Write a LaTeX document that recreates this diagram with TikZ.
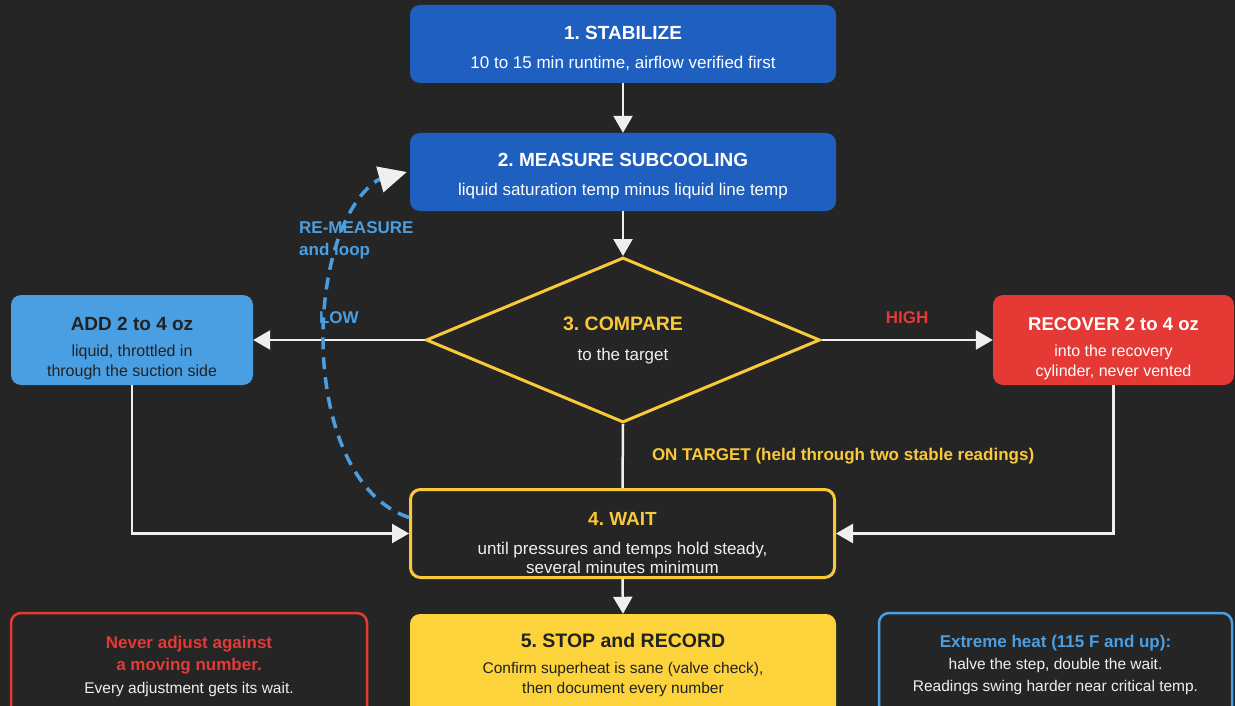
\documentclass[tikz,border=0pt]{standalone}
\usepackage{fontspec}
\setmainfont{Liberation Sans}
\usetikzlibrary{arrows.meta,shapes.geometric,calc}
\frenchspacing

\definecolor{bgdark}{HTML}{252525}
\definecolor{stepblue}{HTML}{1F5FC0}
\definecolor{addblue}{HTML}{4A9FE3}
\definecolor{recred}{HTML}{E53935}
\definecolor{waityellow}{HTML}{F9C93A}
\definecolor{stopyellow}{HTML}{FDD33C}
\definecolor{inkdark}{HTML}{222222}
\definecolor{inklight}{HTML}{EFEFEF}

\newcommand{\ttlfont}{\fontsize{19}{21}\selectfont\bfseries}
\newcommand{\notefont}{\fontsize{17}{21}\selectfont\bfseries}
\newcommand{\padtop}[1]{\rule{0pt}{#1pt}}

\begin{document}
\begin{tikzpicture}[x=1pt, y=-1pt,
        box/.style={rectangle, rounded corners=10pt, align=center, inner sep=0pt,
            font=\fontsize{17}{21}\selectfont},
        flow/.style={draw=inklight, line width=2.5pt, -{Triangle[length=17pt,width=19pt]}},
        lbl/.style={font=\fontsize{17}{22}\selectfont\bfseries, inner sep=0pt}]

        \fill[bgdark] (0,0) rectangle (1235,706);
        \useasboundingbox (0,0) rectangle (1235,706);
        \clip (0,0) rectangle (1235,706);

        % main column
        \node[box, fill=stepblue, text=white, minimum width=426pt, minimum height=78pt] (stabilize) at (623,44)
            {{\padtop{22}\ttlfont 1. STABILIZE}\\[8pt]10 to 15 min runtime, airflow verified first};
        \node[box, fill=stepblue, text=white, minimum width=426pt, minimum height=78pt] (measure) at (623,172)
            {{\padtop{22}\ttlfont 2. MEASURE SUBCOOLING}\\[8pt]liquid saturation temp minus liquid line temp};
        \node[diamond, draw=waityellow, line width=3pt, aspect=2.36, minimum width=394pt, minimum height=165pt,
            inner sep=0pt, align=center, text=inklight, font=\fontsize{17}{21}\selectfont] (compare) at (623,340)
            {{\fontsize{19.5}{21}\selectfont\bfseries\color{waityellow}3. COMPARE}\\[9pt]to the target};
        \node[box, draw=waityellow, line width=3pt, fill=bgdark, text=inklight, minimum width=424pt, minimum height=88pt,
            font=\fontsize{17}{19}\selectfont] (wait) at (622.5,533.5)
            {{\padtop{33}\ttlfont\color{waityellow}4. WAIT}\\[10pt]until pressures and temps hold steady,\\several minutes minimum};
        \node[box, fill=stopyellow, text=inkdark, minimum width=426pt, minimum height=102pt,
            font=\fontsize{15.5}{20}\selectfont] (stop) at (623,665)
            {{\fontsize{19.5}{21}\selectfont\bfseries 5. STOP and RECORD}\\[6pt]Confirm superheat is sane (valve check),\\then document every number};

        % side branches
        \node[box, fill=addblue, text=inkdark, minimum width=242pt, minimum height=90pt,
            font=\fontsize{16}{20}\selectfont] (add) at (132,340)
            {{\padtop{31}\ttlfont ADD 2 to 4 oz}\\[6pt]liquid, throttled in\\through the suction side};
        \node[box, fill=recred, text=white, minimum width=241pt, minimum height=90pt,
            font=\fontsize{16}{20}\selectfont] (recover) at (1113.5,340)
            {{\padtop{31}\fontsize{18.5}{21}\selectfont\bfseries RECOVER 2 to 4 oz}\\[6pt]into the recovery\\cylinder, never vented};

        % notes
        \node[box, draw=recred, line width=2.5pt, fill=bgdark, text=inklight, minimum width=356pt, minimum height=104pt,
            font=\fontsize{15.5}{22.5}\selectfont] (movingnote) at (189,665)
            {{\padtop{15}\notefont\color{recred}Never adjust against}\\{\notefont\color{recred}a moving number.}\\Every adjustment gets its wait.};
        \node[box, draw=addblue, line width=2.5pt, fill=bgdark, text=inklight, minimum width=353pt, minimum height=104pt,
            font=\fontsize{15.5}{22}\selectfont] (heatnote) at (1055.5,665)
            {{\notefont\color{addblue}Extreme heat (115 F and up):}\\halve the step, double the wait.\\Readings swing harder near critical temp.};

        % connectors
        \draw[flow] (stabilize.south) -- (measure.north);
        \draw[flow] (measure.south) -- (compare.north);
        \draw[flow] (compare.west) -- (add.east) node[lbl, midway, yshift=22pt, text=addblue] {LOW};
        \draw[flow] (compare.east) -- (recover.west) node[lbl, midway, yshift=22pt, text=recred] {HIGH};
        \draw[draw=inklight, line width=2.5pt] (compare.south) -- (wait.north)
            node[lbl, midway, anchor=west, xshift=28pt, text=waityellow] {ON TARGET (held through two stable readings)};
        \draw[flow] (add.south) |- (wait.west);
        \draw[flow] (recover.south) |- (wait.east);
        \draw[flow] (wait.south) -- (stop.north);

        % re-measure loop
        \draw[draw=addblue, line width=3.5pt, dash pattern=on 12pt off 8pt,
            -{Triangle[length=28pt,width=26pt,color=inklight]}]
            ($(wait.west)+(0,-16)$) .. controls (298,480) and (302,230) .. ($(measure.west)+(-32,8)$)
            -- ($(measure.west)+(-3,0)$);
        \node[lbl, text=addblue, align=left, anchor=west] (loopnote) at (299,240) {RE-MEASURE\\and loop};
    \end{tikzpicture}
\end{document}
